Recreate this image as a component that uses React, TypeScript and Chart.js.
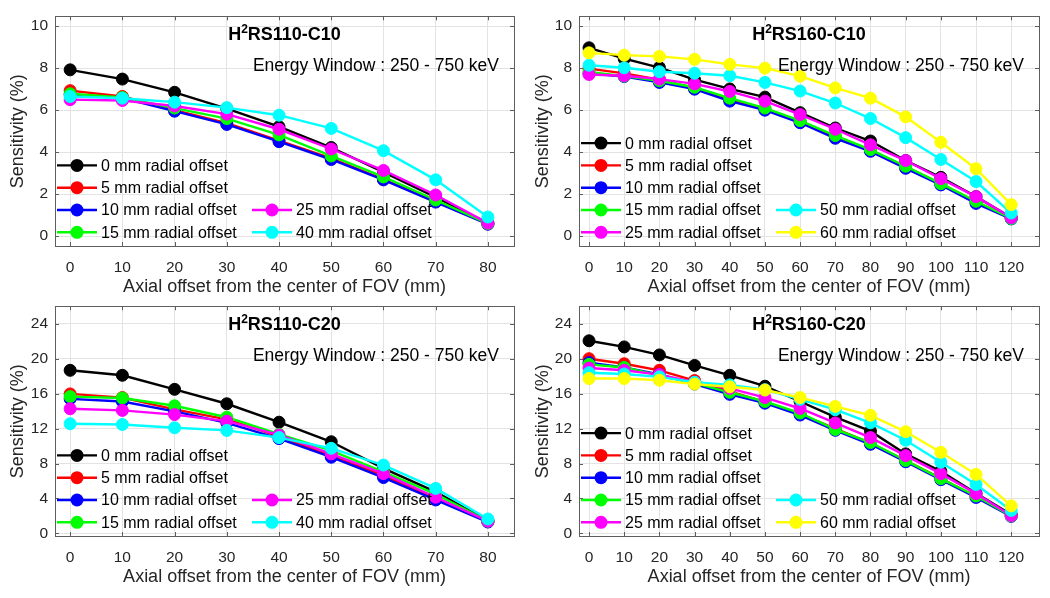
import React, { useEffect, useRef } from "react";
import { Chart, registerables } from "chart.js";

Chart.register(...registerables);

// ---------- data ----------
const axial110 = [0, 10, 20, 30, 40, 50, 60, 70, 80];
const axial160 = [0, 10, 20, 30, 40, 50, 60, 70, 80, 90, 100, 110, 120];
const yTicksC10 = [0, 2, 4, 6, 8, 10];
const yTicksC20 = [0, 4, 8, 12, 16, 20, 24];

const offsetLabels = [
  "0 mm radial offset",
  "5 mm radial offset",
  "10 mm radial offset",
  "15 mm radial offset",
  "25 mm radial offset",
  "40 mm radial offset",
  "50 mm radial offset",
  "60 mm radial offset",
];
const seriesColors = ["#000000", "#ff0000", "#0000ff", "#00ff00", "#ff00ff", "#00ffff", "#00ffff", "#ffff00"];

// H2RS110-C10
const rs110c10_0 = [7.92, 7.48, 6.85, 6.07, 5.21, 4.22, 3.05, 1.85, 0.62];
const rs110c10_5 = [6.93, 6.65, 6.0, 5.38, 4.55, 3.7, 2.7, 1.65, 0.58];
const rs110c10_10 = [6.75, 6.58, 5.95, 5.32, 4.5, 3.65, 2.68, 1.62, 0.57];
const rs110c10_15 = [6.78, 6.6, 6.1, 5.6, 4.82, 3.82, 2.82, 1.72, 0.6];
const rs110c10_25 = [6.5, 6.46, 6.2, 5.81, 5.09, 4.15, 3.13, 1.96, 0.62];
const rs110c10_40 = [6.65, 6.57, 6.38, 6.12, 5.76, 5.13, 4.07, 2.68, 0.91];

// H2RS160-C10
const rs160c10_0 = [8.97, 8.45, 8.03, 7.45, 7.01, 6.62, 5.88, 5.15, 4.53, 3.6, 2.8, 1.88, 0.88];
const rs160c10_5 = [7.98, 7.75, 7.45, 7.05, 6.5, 6.05, 5.45, 4.75, 4.1, 3.3, 2.5, 1.62, 0.85];
const rs160c10_10 = [7.75, 7.6, 7.32, 7.0, 6.43, 6.0, 5.4, 4.66, 4.04, 3.23, 2.44, 1.56, 0.82];
const rs160c10_15 = [7.82, 7.62, 7.4, 7.09, 6.57, 6.1, 5.5, 4.79, 4.12, 3.33, 2.5, 1.66, 0.84];
const rs160c10_25 = [7.7, 7.64, 7.48, 7.25, 6.89, 6.43, 5.79, 5.09, 4.35, 3.6, 2.74, 1.88, 0.88];
const rs160c10_50 = [8.14, 8.02, 7.83, 7.76, 7.64, 7.32, 6.91, 6.34, 5.6, 4.69, 3.65, 2.6, 1.1];
const rs160c10_60 = [8.73, 8.62, 8.56, 8.42, 8.18, 8.0, 7.62, 7.06, 6.57, 5.68, 4.47, 3.21, 1.5];

// H2RS110-C20
const rs110c20_0 = [18.67, 18.1, 16.49, 14.84, 12.73, 10.49, 7.45, 4.75, 1.45];
const rs110c20_5 = [15.97, 15.55, 14.2, 13.05, 11.1, 8.9, 6.65, 4.0, 1.35];
const rs110c20_10 = [15.4, 15.1, 13.97, 12.66, 10.85, 8.72, 6.39, 3.83, 1.3];
const rs110c20_15 = [15.66, 15.5, 14.61, 13.3, 11.35, 9.47, 7.03, 4.5, 1.4];
const rs110c20_25 = [14.27, 14.08, 13.6, 12.85, 11.27, 9.1, 6.84, 4.14, 1.4];
const rs110c20_40 = [12.55, 12.47, 12.09, 11.79, 10.97, 9.74, 7.82, 5.15, 1.65];

// H2RS160-C20
const rs160c20_0 = [22.05, 21.35, 20.43, 19.23, 18.1, 16.85, 15.1, 13.3, 11.7, 9.1, 7.1, 4.6, 2.15];
const rs160c20_5 = [20.0, 19.42, 18.67, 17.5, 16.25, 15.05, 13.65, 12.0, 10.35, 8.35, 6.3, 4.2, 2.0];
const rs160c20_10 = [19.55, 19.0, 18.2, 17.1, 15.92, 14.91, 13.55, 11.8, 10.2, 8.2, 6.15, 4.12, 1.95];
const rs160c20_15 = [19.35, 19.0, 18.1, 17.2, 16.15, 15.1, 13.78, 11.9, 10.4, 8.34, 6.27, 4.28, 2.0];
const rs160c20_25 = [18.93, 18.67, 18.18, 17.3, 16.6, 15.55, 14.3, 12.65, 10.97, 8.9, 6.84, 4.55, 2.05];
const rs160c20_50 = [18.4, 18.25, 17.92, 17.3, 17.0, 16.45, 15.35, 14.16, 12.66, 10.67, 8.15, 5.6, 2.63];
const rs160c20_60 = [17.73, 17.73, 17.54, 17.09, 16.79, 16.41, 15.55, 14.54, 13.52, 11.64, 9.28, 6.76, 3.15];

const energyText = "Energy Window : 250 - 750 keV";
const xTitle = "Axial offset from the center of FOV (mm)";
const yTitle = "Sensitivity (%)";

// ---------- panel definitions ----------
type Panel = {
  rest: string;
  xs: number[];
  xMin: number;
  xMax: number;
  yMin: number;
  yMax: number;
  yTicks: number[];
  series: number[][];
  seriesIdx: number[];
  left: number;
  top: number;
  yAxisWidth: number;
};

const panels: Panel[] = [
  {
    rest: "RS110-C10",
    xs: axial110, xMin: -2.9, xMax: 85, yMin: -0.47, yMax: 10.47, yTicks: yTicksC10,
    series: [rs110c10_0, rs110c10_5, rs110c10_10, rs110c10_15, rs110c10_25, rs110c10_40],
    seriesIdx: [0, 1, 2, 3, 4, 5],
    left: 0, top: 0, yAxisWidth: 55,
  },
  {
    rest: "RS160-C10",
    xs: axial160, xMin: -2.85, xMax: 127.9, yMin: -0.47, yMax: 10.47, yTicks: yTicksC10,
    series: [rs160c10_0, rs160c10_5, rs160c10_10, rs160c10_15, rs160c10_25, rs160c10_50, rs160c10_60],
    seriesIdx: [0, 1, 2, 3, 4, 6, 7],
    left: 525, top: 0, yAxisWidth: 54,
  },
  {
    rest: "RS110-C20",
    xs: axial110, xMin: -2.9, xMax: 85, yMin: -0.3, yMax: 26, yTicks: yTicksC20,
    series: [rs110c20_0, rs110c20_5, rs110c20_10, rs110c20_15, rs110c20_25, rs110c20_40],
    seriesIdx: [0, 1, 2, 3, 4, 5],
    left: 0, top: 290, yAxisWidth: 55,
  },
  {
    rest: "RS160-C20",
    xs: axial160, xMin: -2.85, xMax: 127.9, yMin: -0.3, yMax: 26, yTicks: yTicksC20,
    series: [rs160c20_0, rs160c20_5, rs160c20_10, rs160c20_15, rs160c20_25, rs160c20_50, rs160c20_60],
    seriesIdx: [0, 1, 2, 3, 4, 6, 7],
    left: 525, top: 290, yAxisWidth: 54,
  },
];

const FONT = "'Liberation Sans', Arial, Helvetica, sans-serif";
const TEXT = "#262626";
const FRAME = "#5e5e5e";
const GRID = "#e3e3e3";

const decorPlugin = {
  id: "panelDecor",
  afterDatasetsDraw(chart: any, _args: any, opts: any) {
    const { ctx, chartArea } = chart;
    const { left, top } = chartArea;
    const n = opts.items.length;
    const rowH = 22.3;
    const lastRowY = top + 216;
    const col1 = n - 2;
    ctx.save();
    ctx.font = `16px ${FONT}`;
    ctx.textBaseline = "middle";
    ctx.textAlign = "left";
    opts.items.forEach((it: any, i: number) => {
      let x0: number, y: number;
      if (i < col1) {
        x0 = left + 2;
        y = lastRowY - (col1 - 1 - i) * rowH;
      } else {
        x0 = left + 197;
        y = lastRowY - (n - 1 - i) * rowH;
      }
      ctx.strokeStyle = it.color;
      ctx.lineWidth = 2.4;
      ctx.beginPath();
      ctx.moveTo(x0, y);
      ctx.lineTo(x0 + 40, y);
      ctx.stroke();
      ctx.fillStyle = it.color;
      ctx.beginPath();
      ctx.arc(x0 + 20, y, 6.5, 0, Math.PI * 2);
      ctx.fill();
      ctx.fillStyle = "#000";
      ctx.fillText(it.label, x0 + 44, y + 1);
    });
    ctx.restore();
  },
  afterDraw(chart: any, _args: any, opts: any) {
    const { ctx, chartArea, scales } = chart;
    const { left, right, top, bottom } = chartArea;
    ctx.save();
    ctx.strokeStyle = FRAME;
    ctx.lineWidth = 1;
    const tl = 4;
    scales.x.ticks.forEach((t: any) => {
      const px = Math.round(scales.x.getPixelForValue(t.value)) + 0.5;
      ctx.beginPath();
      ctx.moveTo(px, bottom);
      ctx.lineTo(px, bottom - tl);
      ctx.moveTo(px, top);
      ctx.lineTo(px, top + tl);
      ctx.stroke();
    });
    scales.y.ticks.forEach((t: any) => {
      const py = Math.round(scales.y.getPixelForValue(t.value)) + 0.5;
      ctx.beginPath();
      ctx.moveTo(left, py);
      ctx.lineTo(left + tl, py);
      ctx.moveTo(right, py);
      ctx.lineTo(right - tl, py);
      ctx.stroke();
    });
    ctx.strokeRect(Math.round(left) + 0.5, Math.round(top) + 0.5, Math.round(right - left), Math.round(bottom - top));

    // title
    const cx = (left + right) / 2;
    const ty = top + 19;
    const big = `bold 18px ${FONT}`;
    const small = `bold 12px ${FONT}`;
    ctx.font = big;
    const wH = ctx.measureText("H").width;
    const wR = ctx.measureText(opts.rest).width;
    ctx.font = small;
    const w2 = ctx.measureText("2").width;
    const total = wH + w2 + wR;
    let x = cx - total / 2;
    ctx.fillStyle = "#000";
    ctx.textBaseline = "middle";
    ctx.textAlign = "left";
    ctx.font = big;
    ctx.fillText("H", x, ty);
    x += wH;
    ctx.font = small;
    ctx.fillText("2", x, ty - 6);
    x += w2;
    ctx.font = big;
    ctx.fillText(opts.rest, x, ty);

    // energy window
    ctx.font = `17.5px ${FONT}`;
    ctx.textAlign = "right";
    ctx.fillStyle = "#000";
    ctx.fillText(energyText, right - 15, top + 50);
    ctx.restore();
  },
};

function buildConfig(p: Panel): any {
  const datasets = p.series.map((ys, i) => {
    const c = seriesColors[p.seriesIdx[i]];
    return {
      label: offsetLabels[p.seriesIdx[i]],
      data: p.xs.map((x, k) => ({ x, y: ys[k] })),
      borderColor: c,
      backgroundColor: c,
      pointBackgroundColor: c,
      pointBorderColor: c,
      borderWidth: 2.4,
      pointRadius: 6,
      pointBorderWidth: 1,
      pointHoverRadius: 6,
      tension: 0,
      order: -i,
      clip: false,
    };
  });
  const items = p.seriesIdx.map((si) => ({ label: offsetLabels[si], color: seriesColors[si] }));
  return {
    type: "line",
    data: { datasets },
    plugins: [decorPlugin],
    options: {
      animation: false,
      responsive: false,
      maintainAspectRatio: false,
      layout: { padding: { left: 0, top: 13, right: 11, bottom: 0 } },
      plugins: {
        legend: { display: false },
        tooltip: { enabled: false },
        panelDecor: { items, rest: p.rest },
      },
      scales: {
        x: {
          type: "linear",
          min: p.xMin,
          max: p.xMax,
          afterBuildTicks: (s: any) => {
            s.ticks = p.xs.map((v) => ({ value: v }));
          },
          afterFit: (s: any) => {
            s.height = 53;
          },
          grid: { color: GRID, drawTicks: false, lineWidth: 1 },
          border: { display: false },
          ticks: {
            autoSkip: false,
            maxRotation: 0,
            padding: 12,
            color: TEXT,
            font: { family: FONT, size: 15.5 },
          },
          title: {
            display: true,
            text: xTitle,
            color: TEXT,
            font: { family: FONT, size: 18 },
            padding: { top: 0, bottom: 1 },
          },
        },
        y: {
          type: "linear",
          min: p.yMin,
          max: p.yMax,
          afterBuildTicks: (s: any) => {
            s.ticks = p.yTicks.map((v) => ({ value: v }));
          },
          afterFit: (s: any) => {
            s.width = p.yAxisWidth;
          },
          grid: { color: GRID, drawTicks: false, lineWidth: 1 },
          border: { display: false },
          ticks: {
            padding: 7,
            color: TEXT,
            font: { family: FONT, size: 15.5 },
          },
          title: {
            display: true,
            text: yTitle,
            color: TEXT,
            font: { family: FONT, size: 18 },
            padding: { top: 7, bottom: 0 },
          },
        },
      },
    },
  };
}

function PanelChart({ p }: { p: Panel }) {
  const ref = useRef<HTMLCanvasElement>(null);
  useEffect(() => {
    if (!ref.current) return;
    const chart = new Chart(ref.current, buildConfig(p));
    return () => chart.destroy();
  }, [p]);
  return (
    <canvas
      ref={ref}
      width={525}
      height={299}
      style={{ position: "absolute", left: p.left, top: p.top, width: 525, height: 299 }}
    />
  );
}

export default function App() {
  return (
    <div
      style={{
        position: "fixed",
        left: 0,
        top: 0,
        width: 1050,
        height: 598,
        background: "#ffffff",
        overflow: "hidden",
      }}
    >
      {panels.map((p) => (
        <PanelChart key={p.rest} p={p} />
      ))}
    </div>
  );
}
